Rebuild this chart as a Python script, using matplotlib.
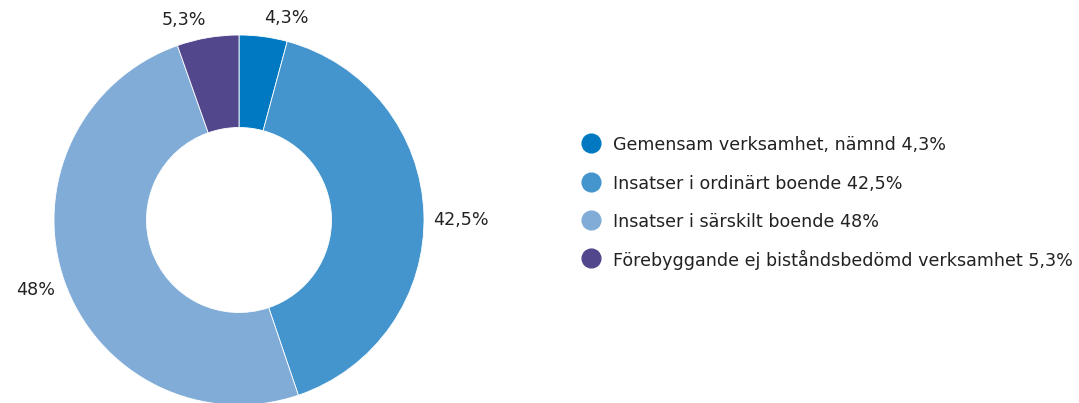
import matplotlib
matplotlib.use("Agg")
import numpy as np
import matplotlib.pyplot as plt
from matplotlib.lines import Line2D

categories = ["Gemensam verksamhet, nämnd", "Insatser i ordinärt boende",
              "Insatser i särskilt boende", "Förebyggande ej biståndsbedömd verksamhet"]
# slice sizes as drawn in the picture
values = [4.2, 40.6, 49.8, 5.4]
# percentage texts as printed in the picture
pct_labels = ["4,3%", "42,5%", "48%", "5,3%"]
colors = ["#0079C2", "#4495CD", "#80ACD7", "#52478C"]

W, H = 1079, 403
plt.rcParams['font.family'] = ['DejaVu Sans']
FS = 12.6
TXT = "#222222"
fig = plt.figure(figsize=(W / 100, H / 100), dpi=100)

cx, cy, R = 239, 220, 185
ax = fig.add_axes([(cx - R) / W, (H - cy - R) / H, 2 * R / W, 2 * R / H])
wedges, _ = ax.pie(values, colors=colors, startangle=90, counterclock=False,
                   radius=1, wedgeprops=dict(width=0.5, edgecolor="white", linewidth=0.6))
ax.set_xlim(-1, 1)
ax.set_ylim(-1, 1)
ax.axis("off")
for w in wedges:
    w.set_clip_on(False)

# percentage labels outside the ring
for w, lab in zip(wedges, pct_labels):
    ang = np.deg2rad((w.theta1 + w.theta2) / 2)
    c, s = np.cos(ang), np.sin(ang)
    r = 1.05
    ha = "left" if c > 0 else "right"
    if s > 0.5:
        va, off = "bottom", 0.0
    elif s < -0.5:
        va, off = "top", 0.0
    else:
        va, off = "center", -0.035
    ax.text(r * c, r * s + off, lab, ha=ha, va=va, fontsize=FS, color=TXT, clip_on=False)

# legend
x_mark, x_text = 591 / W, 613 / W
y0, dy = 143.3, 38.3
for i, (cat, lab, col) in enumerate(zip(categories, pct_labels, colors)):
    yy = 1 - (y0 + i * dy) / H
    fig.add_artist(Line2D([x_mark], [yy], marker="o", markersize=13.5, linestyle="none",
                          markerfacecolor=col, markeredgecolor=col,
                          transform=fig.transFigure))
    fig.text(x_text, yy, f"{cat} {lab}", ha="left", va="center_baseline",
             fontsize=FS, color=TXT)

fig.savefig("out.png", dpi=100)
